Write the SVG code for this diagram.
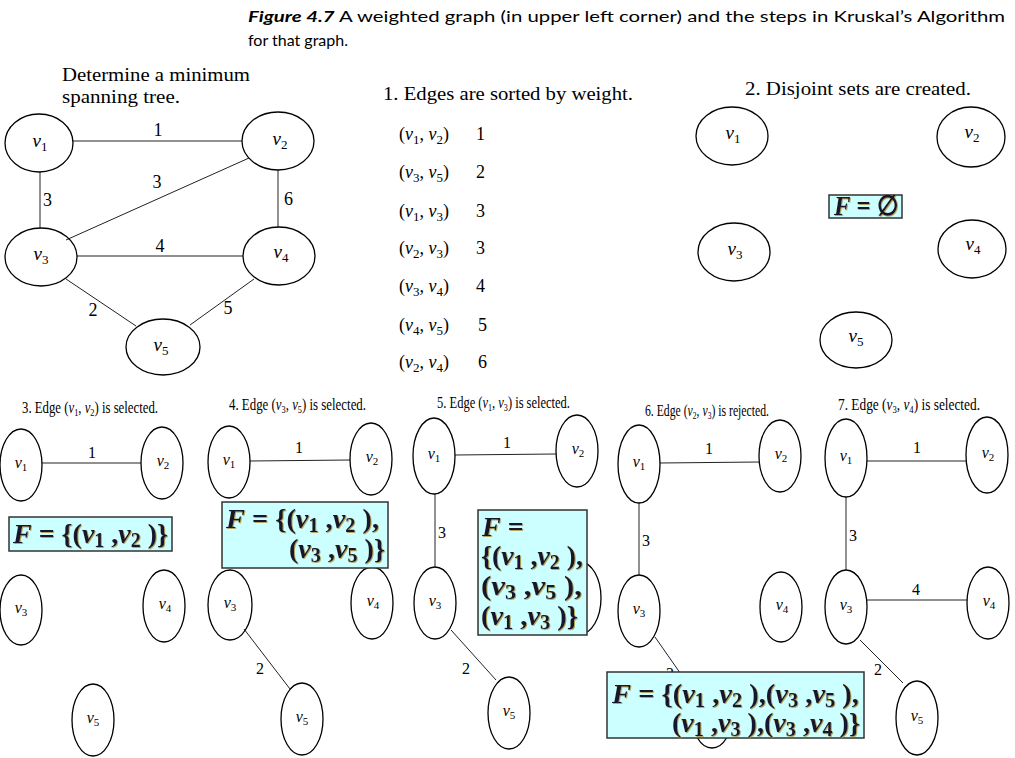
<svg xmlns="http://www.w3.org/2000/svg" width="1015" height="758" viewBox="0 0 1015 758">
<style>
.bg{fill:#fff}
.nd{fill:none;stroke:#000;stroke-width:1.3}
.ed{stroke:#222;stroke-width:1;fill:none}
.sf{font-family:"Liberation Serif","DejaVu Serif",serif;fill:#000}
.cap{font-family:Lato,"Open Sans",sans-serif;font-size:16px;fill:#000}
.t17{font-size:18px}
.nl{font-size:19px;text-anchor:middle}
.nls{font-size:16px;text-anchor:middle}
.it{font-style:italic}
.w{font-size:18px}
.ws{font-size:16px}
.bx{fill:#ccffff;stroke:#333;stroke-width:1.5}
.ft{font-family:"Liberation Serif","DejaVu Serif",serif;font-weight:bold;font-size:28px;fill:#12122e;filter:url(#sh)}
.ti{font-size:17px}
</style>
<defs>
<filter id="sh" x="-5%" y="-5%" width="110%" height="120%"><feDropShadow dx="0.8" dy="0.8" stdDeviation="0.3" flood-color="#a8862c" flood-opacity="0.9"/></filter>
</defs>
<rect class="bg" x="0" y="0" width="1015" height="758"/>

<g id="caption">
<text class="cap" x="248" y="22" textLength="757" lengthAdjust="spacingAndGlyphs"><tspan font-weight="bold" font-style="italic">Figure 4.7</tspan>  A weighted graph (in upper left corner) and the steps in Kruskal’s Algorithm</text>
<text class="cap" x="248" y="46">for that graph.</text>
</g>

<g id="headings">
<text class="sf t17" x="62" y="81" textLength="188" lengthAdjust="spacingAndGlyphs">Determine a minimum</text>
<text class="sf t17" x="62" y="103" textLength="118" lengthAdjust="spacingAndGlyphs">spanning tree.</text>
<text class="sf t17" x="383" y="100" textLength="250" lengthAdjust="spacingAndGlyphs">1. Edges are sorted by weight.</text>
<text class="sf t17" x="745" y="95" textLength="226" lengthAdjust="spacingAndGlyphs">2. Disjoint sets are created.</text>
</g>

<g id="sorted-list" class="sf w">
<text x="399" y="140">(<tspan class="it">v</tspan><tspan font-size="13" dy="4">1</tspan><tspan dy="-4">, </tspan><tspan class="it">v</tspan><tspan font-size="13" dy="4">2</tspan><tspan dy="-4">)</tspan></text><text x="476" y="140">1</text>
<text x="399" y="178">(<tspan class="it">v</tspan><tspan font-size="13" dy="4">3</tspan><tspan dy="-4">, </tspan><tspan class="it">v</tspan><tspan font-size="13" dy="4">5</tspan><tspan dy="-4">)</tspan></text><text x="476" y="178">2</text>
<text x="399" y="217">(<tspan class="it">v</tspan><tspan font-size="13" dy="4">1</tspan><tspan dy="-4">, </tspan><tspan class="it">v</tspan><tspan font-size="13" dy="4">3</tspan><tspan dy="-4">)</tspan></text><text x="476" y="217">3</text>
<text x="399" y="254">(<tspan class="it">v</tspan><tspan font-size="13" dy="4">2</tspan><tspan dy="-4">, </tspan><tspan class="it">v</tspan><tspan font-size="13" dy="4">3</tspan><tspan dy="-4">)</tspan></text><text x="476" y="254">3</text>
<text x="399" y="292">(<tspan class="it">v</tspan><tspan font-size="13" dy="4">3</tspan><tspan dy="-4">, </tspan><tspan class="it">v</tspan><tspan font-size="13" dy="4">4</tspan><tspan dy="-4">)</tspan></text><text x="476" y="292">4</text>
<text x="399" y="331">(<tspan class="it">v</tspan><tspan font-size="13" dy="4">4</tspan><tspan dy="-4">, </tspan><tspan class="it">v</tspan><tspan font-size="13" dy="4">5</tspan><tspan dy="-4">)</tspan></text><text x="478" y="331">5</text>
<text x="399" y="368">(<tspan class="it">v</tspan><tspan font-size="13" dy="4">2</tspan><tspan dy="-4">, </tspan><tspan class="it">v</tspan><tspan font-size="13" dy="4">4</tspan><tspan dy="-4">)</tspan></text><text x="478" y="368">6</text>
</g>

<g id="connectors">
<g id="tl-edges">
<line class="ed" x1="73" y1="141" x2="242" y2="141"/>
<line class="ed" x1="40" y1="172" x2="40" y2="228"/>
<line class="ed" x1="249" y1="158" x2="66" y2="240"/>
<line class="ed" x1="278" y1="170" x2="278" y2="227"/>
<line class="ed" x1="77" y1="256" x2="243" y2="256"/>
<line class="ed" x1="66" y1="279" x2="136" y2="326"/>
<line class="ed" x1="254" y1="279" x2="190" y2="325"/>
</g>
<g id="p3-edges"><line class="ed" x1="42" y1="463" x2="141" y2="463"/></g>
<g id="p4-edges">
<line class="ed" x1="250" y1="461" x2="350" y2="460"/>
<line class="ed" x1="244" y1="629" x2="290" y2="689"/>
</g>
<g id="p5-edges">
<line class="ed" x1="455" y1="455" x2="556" y2="454"/>
<line class="ed" x1="435" y1="494" x2="435" y2="567"/>
<line class="ed" x1="451" y1="630" x2="496" y2="680"/>
</g>
<g id="p6-edges">
<line class="ed" x1="660" y1="463" x2="759" y2="462"/>
<line class="ed" x1="639" y1="503" x2="639" y2="575"/>
<line class="ed" x1="655" y1="637" x2="692" y2="690"/>
</g>
<g id="p7-edges">
<line class="ed" x1="867" y1="461" x2="966" y2="461"/>
<line class="ed" x1="846" y1="497" x2="846" y2="570"/>
<line class="ed" x1="867" y1="600" x2="967" y2="600"/>
<line class="ed" x1="860" y1="640" x2="903" y2="683"/>
</g>
</g>

<g id="edge-labels" class="sf w">
<text x="158" y="136" text-anchor="middle">1</text>
<text x="43" y="206">3</text>
<text x="157" y="188" text-anchor="middle">3</text>
<text x="284" y="205">6</text>
<text x="160" y="252" text-anchor="middle">4</text>
<text x="93" y="316" text-anchor="middle">2</text>
<text x="228" y="314" text-anchor="middle">5</text>
</g>
<g id="edge-labels-small" class="sf ws">
<text x="92" y="458" text-anchor="middle">1</text>
<text x="299" y="453" text-anchor="middle">1</text>
<text x="260" y="674" text-anchor="middle">2</text>
<text x="507" y="448" text-anchor="middle">1</text>
<text x="438" y="538">3</text>
<text x="466" y="674" text-anchor="middle">2</text>
<text x="709" y="454" text-anchor="middle">1</text>
<text x="642" y="546">3</text>
<text x="670" y="679" text-anchor="middle">2</text>
<text x="917" y="453" text-anchor="middle">1</text>
<text x="849" y="541">3</text>
<text x="916" y="595" text-anchor="middle">4</text>
<text x="878" y="675" text-anchor="middle">2</text>
</g>

<g id="tl-v1"><ellipse class="nd" cx="39" cy="143" rx="34" ry="29"/><text class="sf nl" x="40" y="147"><tspan class="it">v</tspan><tspan font-size="13" dy="4">1</tspan></text></g>
<g id="tl-v2"><ellipse class="nd" cx="278" cy="141" rx="36" ry="29"/><text class="sf nl" x="280" y="145"><tspan class="it">v</tspan><tspan font-size="13" dy="4">2</tspan></text></g>
<g id="tl-v3"><ellipse class="nd" cx="41" cy="257" rx="36" ry="29"/><text class="sf nl" x="41" y="260"><tspan class="it">v</tspan><tspan font-size="13" dy="4">3</tspan></text></g>
<g id="tl-v4"><ellipse class="nd" cx="279" cy="256" rx="36" ry="29"/><text class="sf nl" x="281" y="258"><tspan class="it">v</tspan><tspan font-size="13" dy="4">4</tspan></text></g>
<g id="tl-v5"><ellipse class="nd" cx="163" cy="347" rx="37" ry="28"/><text class="sf nl" x="161" y="351"><tspan class="it">v</tspan><tspan font-size="13" dy="4">5</tspan></text></g>

<g id="s2-v1"><ellipse class="nd" cx="732" cy="136" rx="36" ry="29"/><text class="sf nl" x="733" y="139"><tspan class="it">v</tspan><tspan font-size="13" dy="4">1</tspan></text></g>
<g id="s2-v2"><ellipse class="nd" cx="971" cy="137" rx="34" ry="30"/><text class="sf nl" x="972" y="138"><tspan class="it">v</tspan><tspan font-size="13" dy="4">2</tspan></text></g>
<g id="s2-v3"><ellipse class="nd" cx="734" cy="252" rx="36" ry="29"/><text class="sf nl" x="735" y="255"><tspan class="it">v</tspan><tspan font-size="13" dy="4">3</tspan></text></g>
<g id="s2-v4"><ellipse class="nd" cx="972" cy="249" rx="34" ry="29"/><text class="sf nl" x="973" y="250"><tspan class="it">v</tspan><tspan font-size="13" dy="4">4</tspan></text></g>
<g id="s2-v5"><ellipse class="nd" cx="856" cy="340" rx="36" ry="28"/><text class="sf nl" x="856" y="342"><tspan class="it">v</tspan><tspan font-size="13" dy="4">5</tspan></text></g>
<g id="s2-F"><rect class="bx" x="829" y="195" width="73" height="23"/><text class="ft" x="834" y="215" font-size="23" textLength="64" lengthAdjust="spacingAndGlyphs"><tspan font-style="italic">F</tspan> = ∅</text></g>

<g id="panel-titles" class="sf ti">
<text x="22" y="413" textLength="136" lengthAdjust="spacingAndGlyphs">3. Edge (<tspan class="it">v</tspan><tspan font-size="11" dy="3">1</tspan><tspan dy="-3">, </tspan><tspan class="it">v</tspan><tspan font-size="11" dy="3">2</tspan><tspan dy="-3">) is selected.</tspan></text>
<text x="229" y="410" textLength="137" lengthAdjust="spacingAndGlyphs">4. Edge (<tspan class="it">v</tspan><tspan font-size="11" dy="3">3</tspan><tspan dy="-3">, </tspan><tspan class="it">v</tspan><tspan font-size="11" dy="3">5</tspan><tspan dy="-3">) is selected.</tspan></text>
<text x="437" y="408" textLength="133" lengthAdjust="spacingAndGlyphs">5. Edge (<tspan class="it">v</tspan><tspan font-size="11" dy="3">1</tspan><tspan dy="-3">, </tspan><tspan class="it">v</tspan><tspan font-size="11" dy="3">3</tspan><tspan dy="-3">) is selected.</tspan></text>
<text x="645" y="416" textLength="124" lengthAdjust="spacingAndGlyphs">6. Edge (<tspan class="it">v</tspan><tspan font-size="11" dy="3">2</tspan><tspan dy="-3">, </tspan><tspan class="it">v</tspan><tspan font-size="11" dy="3">3</tspan><tspan dy="-3">) is rejected.</tspan></text>
<text x="838" y="410" textLength="142" lengthAdjust="spacingAndGlyphs">7. Edge (<tspan class="it">v</tspan><tspan font-size="11" dy="3">3</tspan><tspan dy="-3">, </tspan><tspan class="it">v</tspan><tspan font-size="11" dy="3">4</tspan><tspan dy="-3">) is selected.</tspan></text>
</g>

<g id="p3-v1"><ellipse class="nd" cx="21" cy="465" rx="21" ry="36"/><text class="sf nls" x="21" y="468"><tspan class="it">v</tspan><tspan font-size="11" dy="3">1</tspan></text></g>
<g id="p3-v2"><ellipse class="nd" cx="162" cy="463" rx="21" ry="36"/><text class="sf nls" x="163" y="466"><tspan class="it">v</tspan><tspan font-size="11" dy="3">2</tspan></text></g>
<g id="p3-v3"><ellipse class="nd" cx="21" cy="610" rx="21" ry="35"/><text class="sf nls" x="21" y="613"><tspan class="it">v</tspan><tspan font-size="11" dy="3">3</tspan></text></g>
<g id="p3-v4"><ellipse class="nd" cx="164" cy="606" rx="21" ry="36"/><text class="sf nls" x="165" y="609"><tspan class="it">v</tspan><tspan font-size="11" dy="3">4</tspan></text></g>
<g id="p3-v5"><ellipse class="nd" cx="93" cy="720" rx="21" ry="36"/><text class="sf nls" x="93" y="723"><tspan class="it">v</tspan><tspan font-size="11" dy="3">5</tspan></text></g>
<g id="p3-F"><rect class="bx" x="9" y="517" width="163" height="34"/>
<text class="ft" x="13" y="543" textLength="155" lengthAdjust="spacingAndGlyphs"><tspan font-style="italic">F</tspan> = {(<tspan font-style="italic">v</tspan><tspan font-size="20" dy="4">1</tspan><tspan dy="-4"> ,</tspan><tspan font-style="italic">v</tspan><tspan font-size="20" dy="4">2</tspan><tspan dy="-4"> )}</tspan></text></g>

<g id="p4-v1"><ellipse class="nd" cx="229" cy="462" rx="21" ry="36"/><text class="sf nls" x="229" y="465"><tspan class="it">v</tspan><tspan font-size="11" dy="3">1</tspan></text></g>
<g id="p4-v2"><ellipse class="nd" cx="371" cy="459" rx="21" ry="36"/><text class="sf nls" x="372" y="462"><tspan class="it">v</tspan><tspan font-size="11" dy="3">2</tspan></text></g>
<g id="p4-v3"><ellipse class="nd" cx="230" cy="605" rx="22" ry="35"/><text class="sf nls" x="230" y="608"><tspan class="it">v</tspan><tspan font-size="11" dy="3">3</tspan></text></g>
<g id="p4-v4"><ellipse class="nd" cx="372" cy="603" rx="21" ry="36"/><text class="sf nls" x="373" y="606"><tspan class="it">v</tspan><tspan font-size="11" dy="3">4</tspan></text></g>
<g id="p4-v5"><ellipse class="nd" cx="302" cy="719" rx="21" ry="36"/><text class="sf nls" x="302" y="722"><tspan class="it">v</tspan><tspan font-size="11" dy="3">5</tspan></text></g>
<g id="p4-F"><rect class="bx" x="222" y="502" width="166" height="66"/>
<text class="ft" x="226" y="528" textLength="153" lengthAdjust="spacingAndGlyphs"><tspan font-style="italic">F</tspan> = {(<tspan font-style="italic">v</tspan><tspan font-size="20" dy="4">1</tspan><tspan dy="-4"> ,</tspan><tspan font-style="italic">v</tspan><tspan font-size="20" dy="4">2</tspan><tspan dy="-4"> ),</tspan></text>
<text class="ft" x="289" y="558" textLength="96" lengthAdjust="spacingAndGlyphs">(<tspan font-style="italic">v</tspan><tspan font-size="20" dy="4">3</tspan><tspan dy="-4"> ,</tspan><tspan font-style="italic">v</tspan><tspan font-size="20" dy="4">5</tspan><tspan dy="-4"> )}</tspan></text></g>

<g id="p5-v1"><ellipse class="nd" cx="434" cy="456" rx="21" ry="38"/><text class="sf nls" x="434" y="459"><tspan class="it">v</tspan><tspan font-size="11" dy="3">1</tspan></text></g>
<g id="p5-v2"><ellipse class="nd" cx="577" cy="451" rx="21" ry="36"/><text class="sf nls" x="578" y="454"><tspan class="it">v</tspan><tspan font-size="11" dy="3">2</tspan></text></g>
<g id="p5-v3"><ellipse class="nd" cx="435" cy="603" rx="21" ry="36"/><text class="sf nls" x="435" y="606"><tspan class="it">v</tspan><tspan font-size="11" dy="3">3</tspan></text></g>
<g id="p5-v4"><ellipse class="nd" cx="580" cy="598" rx="21" ry="36"/></g>
<g id="p5-v5"><ellipse class="nd" cx="509" cy="713" rx="21" ry="36"/><text class="sf nls" x="509" y="716"><tspan class="it">v</tspan><tspan font-size="11" dy="3">5</tspan></text></g>
<g id="p5-F"><rect class="bx" x="478" y="510" width="109" height="125"/>
<text class="ft" x="482" y="536"><tspan font-style="italic">F</tspan> =</text>
<text class="ft" x="481" y="565" textLength="102" lengthAdjust="spacingAndGlyphs">{(<tspan font-style="italic">v</tspan><tspan font-size="20" dy="4">1</tspan><tspan dy="-4"> ,</tspan><tspan font-style="italic">v</tspan><tspan font-size="20" dy="4">2</tspan><tspan dy="-4"> ),</tspan></text>
<text class="ft" x="481" y="595" textLength="101" lengthAdjust="spacingAndGlyphs">(<tspan font-style="italic">v</tspan><tspan font-size="20" dy="4">3</tspan><tspan dy="-4"> ,</tspan><tspan font-style="italic">v</tspan><tspan font-size="20" dy="4">5</tspan><tspan dy="-4"> ),</tspan></text>
<text class="ft" x="481" y="625" textLength="97" lengthAdjust="spacingAndGlyphs">(<tspan font-style="italic">v</tspan><tspan font-size="20" dy="4">1</tspan><tspan dy="-4"> ,</tspan><tspan font-style="italic">v</tspan><tspan font-size="20" dy="4">3</tspan><tspan dy="-4"> )}</tspan></text></g>

<g id="p6-v1"><ellipse class="nd" cx="639" cy="464" rx="21" ry="39"/><text class="sf nls" x="639" y="467"><tspan class="it">v</tspan><tspan font-size="11" dy="3">1</tspan></text></g>
<g id="p6-v2"><ellipse class="nd" cx="780" cy="456" rx="21" ry="36"/><text class="sf nls" x="781" y="459"><tspan class="it">v</tspan><tspan font-size="11" dy="3">2</tspan></text></g>
<g id="p6-v3"><ellipse class="nd" cx="639" cy="611" rx="21" ry="36"/><text class="sf nls" x="639" y="614"><tspan class="it">v</tspan><tspan font-size="11" dy="3">3</tspan></text></g>
<g id="p6-v4"><ellipse class="nd" cx="781" cy="607" rx="21" ry="35"/><text class="sf nls" x="782" y="610"><tspan class="it">v</tspan><tspan font-size="11" dy="3">4</tspan></text></g>
<g id="p6-v5"><ellipse class="nd" cx="712" cy="712" rx="21" ry="36"/></g>
<g id="p6-F"><rect class="bx" x="607" y="672" width="257" height="66"/>
<text class="ft" x="612" y="703" textLength="247" lengthAdjust="spacingAndGlyphs"><tspan font-style="italic">F</tspan> = {(<tspan font-style="italic">v</tspan><tspan font-size="20" dy="4">1</tspan><tspan dy="-4"> ,</tspan><tspan font-style="italic">v</tspan><tspan font-size="20" dy="4">2</tspan><tspan dy="-4"> ),(</tspan><tspan font-style="italic">v</tspan><tspan font-size="20" dy="4">3</tspan><tspan dy="-4"> ,</tspan><tspan font-style="italic">v</tspan><tspan font-size="20" dy="4">5</tspan><tspan dy="-4"> ),</tspan></text>
<text class="ft" x="672" y="732" textLength="188" lengthAdjust="spacingAndGlyphs">(<tspan font-style="italic">v</tspan><tspan font-size="20" dy="4">1</tspan><tspan dy="-4"> ,</tspan><tspan font-style="italic">v</tspan><tspan font-size="20" dy="4">3</tspan><tspan dy="-4"> ),(</tspan><tspan font-style="italic">v</tspan><tspan font-size="20" dy="4">3</tspan><tspan dy="-4"> ,</tspan><tspan font-style="italic">v</tspan><tspan font-size="20" dy="4">4</tspan><tspan dy="-4"> )}</tspan></text></g>

<g id="p7-v1"><ellipse class="nd" cx="846" cy="458" rx="21" ry="39"/><text class="sf nls" x="846" y="461"><tspan class="it">v</tspan><tspan font-size="11" dy="3">1</tspan></text></g>
<g id="p7-v2"><ellipse class="nd" cx="987" cy="455" rx="21" ry="38"/><text class="sf nls" x="988" y="458"><tspan class="it">v</tspan><tspan font-size="11" dy="3">2</tspan></text></g>
<g id="p7-v3"><ellipse class="nd" cx="846" cy="607" rx="21" ry="37"/><text class="sf nls" x="846" y="610"><tspan class="it">v</tspan><tspan font-size="11" dy="3">3</tspan></text></g>
<g id="p7-v4"><ellipse class="nd" cx="988" cy="603" rx="21" ry="36"/><text class="sf nls" x="989" y="606"><tspan class="it">v</tspan><tspan font-size="11" dy="3">4</tspan></text></g>
<g id="p7-v5"><ellipse class="nd" cx="917" cy="718" rx="21" ry="37"/><text class="sf nls" x="917" y="721"><tspan class="it">v</tspan><tspan font-size="11" dy="3">5</tspan></text></g>
</svg>
